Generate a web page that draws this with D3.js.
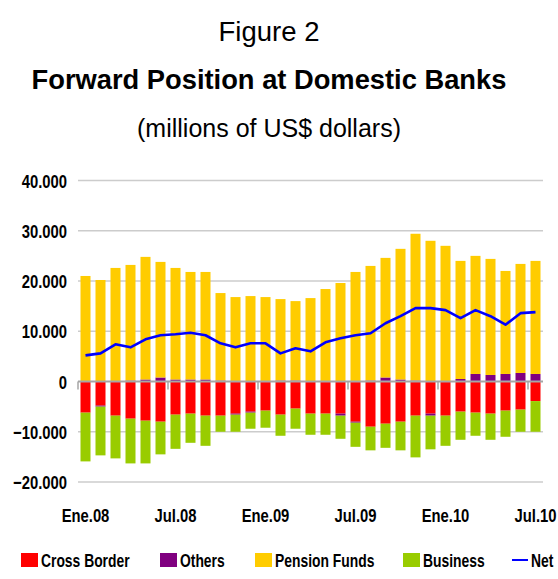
<!DOCTYPE html>
<html>
<head>
<meta charset="utf-8">
<script src="https://cdn.jsdelivr.net/npm/d3@7"></script>
<style>
  html, body { margin: 0; padding: 0; background: #fff; }
  svg { display: block; }
  .title { font-family: "Liberation Sans", Arial, sans-serif; fill: #000; }
  .ax { font-family: "Liberation Sans", Arial, sans-serif; font-weight: bold; font-size: 19px; fill: #000; }
</style>
</head>
<body>
<svg id="chart" width="558" height="579"></svg>
<script>
// Monthly forward positions, millions of US$
const months = ["Ene.08","Feb.08","Mar.08","Abr.08","May.08","Jun.08","Jul.08","Ago.08","Sep.08","Oct.08","Nov.08","Dic.08",
                "Ene.09","Feb.09","Mar.09","Abr.09","May.09","Jun.09","Jul.09","Ago.09","Sep.09","Oct.09","Nov.09","Dic.09",
                "Ene.10","Feb.10","Mar.10","Abr.10","May.10","Jun.10","Jul.10"];
const tickLabels = ["Ene.08","Jul.08","Ene.09","Jul.09","Ene.10","Jul.10"];

const crossBorder = [-6200,-4800,-6800,-7400,-7800,-8000,-6600,-6400,-6800,-6800,-6400,-6000,-5800,-6600,-5400,-6400,
                     -6400,-6400,-8000,-9000,-8400,-8000,-6800,-6400,-6800,-6000,-6200,-6400,-5800,-5600,-3900];
const others      = [0,-200,0,200,400,800,400,400,400,200,-200,-200,0,200,200,0,
                     0,-400,-200,200,800,400,200,-400,0,500,1500,1300,1500,1700,1500];
const pension     = [21000,20200,22600,23000,24400,23000,22200,21400,21400,17400,16800,17000,16800,16200,15800,16600,
                     18400,19600,21800,22800,23800,26000,29200,28000,27000,23500,23500,23100,20500,21700,22500];
const business    = [-9700,-9700,-8500,-8900,-8500,-6500,-6800,-5800,-6000,-3200,-3400,-3200,-3400,-4200,-4000,-4200,
                     -4200,-4600,-4800,-4700,-4800,-5700,-8300,-6700,-6000,-5600,-4600,-5200,-5200,-4400,-6100];
const net         = [5200,5600,7400,6800,8400,9200,9400,9700,9200,7600,6800,7600,7600,5600,6600,6000,
                     7800,8600,9200,9600,11600,13000,14600,14600,14200,12600,14200,13000,11300,13600,13800];

const yTicks = [-20000,-10000,0,10000,20000,30000,40000];

const seriesNames  = ["Cross Border","Others","Pension Funds","Business"];
const seriesColors = ["#ff0000","#800080","#ffcc00","#99cc00"];

const rows = months.map((m, i) => ({
  month: m,
  "Cross Border": crossBorder[i],
  "Others": others[i],
  "Pension Funds": pension[i],
  "Business": business[i]
}));

const svg = d3.select("#chart");

const x = d3.scaleBand().domain(months).range([78, 543]).paddingInner(1/3).paddingOuter(1/6);
const y = d3.scaleLinear().domain([-20000, 40000]).range([482, 180.5]);

// Condensed axis/legend lettering: bold face squeezed horizontally
function axText(sel, px, py, anchor, str, sq = 0.78) {
  return sel.append("text").attr("class", "ax")
    .attr("transform", `translate(${px},${py}) scale(${sq},1)`)
    .attr("text-anchor", anchor).text(str);
}

// Titles
svg.append("text").attr("class","title").attr("x",269).attr("y",41)
  .attr("text-anchor","middle").attr("font-size",27.5).text("Figure 2");
svg.append("text").attr("class","title").attr("x",269).attr("y",89)
  .attr("text-anchor","middle").attr("font-size",27.3).attr("font-weight","bold").text("Forward Position at Domestic Banks");
svg.append("text").attr("class","title").attr("x",269).attr("y",137)
  .attr("text-anchor","middle").attr("font-size",25).text("(millions of US$ dollars)");

// Horizontal gridlines
svg.append("g").selectAll("line").data(yTicks.filter(t => t !== 0)).join("line")
  .attr("x1", 78).attr("x2", 543)
  .attr("y1", d => y(d)).attr("y2", d => y(d))
  .attr("stroke", "#cccccc").attr("stroke-width", 1.5);

// Y tick labels
const fmt = d => d === 0 ? "0" : d3.format(",")(d).replace(/,/g, ".");
const yg = svg.append("g");
yTicks.forEach(t => axText(yg, 67, y(t) + 7, "end", fmt(t)));

// Stacked bars
const stack = d3.stack().keys(seriesNames).offset(d3.stackOffsetDiverging);
const layers = stack(rows);
svg.append("g").selectAll("g").data(layers).join("g")
  .attr("fill", (d, i) => seriesColors[i])
  .selectAll("rect").data(d => d).join("rect")
  .attr("x", d => x(d.data.month))
  .attr("width", x.bandwidth())
  .attr("y", d => y(Math.max(d[0], d[1])))
  .attr("height", d => Math.abs(y(d[0]) - y(d[1])));

// Zero axis with tick marks every six months
svg.append("line").attr("x1", 78).attr("x2", 543).attr("y1", y(0)).attr("y2", y(0))
  .attr("stroke", "#a6a6a6").attr("stroke-width", 2);
const tickIdx = tickLabels.map(t => months.indexOf(t));
svg.append("g").selectAll("line").data(tickIdx).join("line")
  .attr("x1", i => x(months[i]) - x.step() * x.paddingInner() / 2)
  .attr("x2", i => x(months[i]) - x.step() * x.paddingInner() / 2)
  .attr("y1", y(0)).attr("y2", y(0) + 8)
  .attr("stroke", "#a6a6a6").attr("stroke-width", 1.5);

// X labels
const xg = svg.append("g");
tickLabels.forEach(t => axText(xg, x(t) + x.bandwidth() / 2, 522, "middle", t));

// Net line
const line = d3.line().x((d, i) => x(months[i]) + x.bandwidth() / 2).y(d => y(d));
svg.append("path").datum(net).attr("d", line)
  .attr("fill","none").attr("stroke","#0000ff").attr("stroke-width",2.6).attr("stroke-linejoin","round");

// Legend
const legendX = [21, 160, 255, 403];
const lg = svg.append("g");
seriesNames.forEach((name, i) => {
  lg.append("rect").attr("x", legendX[i]).attr("y", 553).attr("width", 17).attr("height", 14).attr("fill", seriesColors[i]);
  axText(lg, legendX[i] + 20, 567, "start", name, 0.73);
});
lg.append("line").attr("x1", 512).attr("x2", 528).attr("y1", 560).attr("y2", 560)
  .attr("stroke","#0000ff").attr("stroke-width",2);
axText(lg, 531, 567, "start", "Net", 0.73);
</script>
</body>
</html>
